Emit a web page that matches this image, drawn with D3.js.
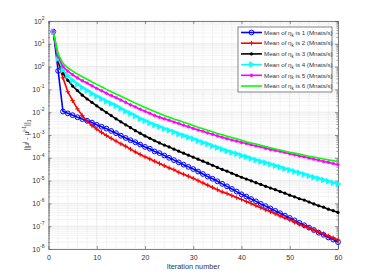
<!DOCTYPE html>
<html><head><meta charset="utf-8">
<script src="https://cdn.jsdelivr.net/npm/d3@7"></script>
<style>body{margin:0;background:#fff}svg{display:block;font-family:"Liberation Sans",Arial,sans-serif}</style>
</head><body><svg id="c" width="374" height="280"></svg>
<script>
const iterations = d3.range(1, 61);
const xTicks = [0, 10, 20, 30, 40, 50, 60];
const yTickExps = [2, 1, 0, -1, -2, -3, -4, -5, -6, -7, -8];
const seriesNames = ["1", "2", "3", "4", "5", "6"];
const s1 = [3.4e1,6.5e-1,1.07e-2,8.9e-3,7.4e-3,6.0e-3,5.0e-3,4.2e-3,3.5e-3,2.8e-3,2.3e-3,1.9e-3,1.5e-3,1.2e-3,9.3e-4,7.4e-4,5.9e-4,4.8e-4,3.8e-4,3.0e-4,2.5e-4,1.9e-4,1.6e-4,1.26e-4,1.0e-4,7.9e-5,6.3e-5,5.0e-5,4.0e-5,3.2e-5,2.5e-5,1.95e-5,1.5e-5,1.2e-5,9.3e-6,7.2e-6,5.6e-6,4.3e-6,3.3e-6,2.5e-6,2.0e-6,1.55e-6,1.23e-6,9.5e-7,7.6e-7,6.0e-7,4.7e-7,3.7e-7,2.9e-7,2.3e-7,1.8e-7,1.4e-7,1.1e-7,8.7e-8,6.8e-8,5.2e-8,4.2e-8,3.2e-8,2.6e-8,2.0e-8];
const s2 = [3.4e1,1.6,3.2e-1,7.9e-2,3.2e-2,1.4e-2,7.1e-3,4.0e-3,2.6e-3,1.8e-3,1.3e-3,9.5e-4,7.1e-4,5.4e-4,4.1e-4,3.2e-4,2.4e-4,1.8e-4,1.4e-4,1.1e-4,8.9e-5,7.1e-5,5.6e-5,4.5e-5,3.6e-5,3.0e-5,2.3e-5,1.9e-5,1.55e-5,1.26e-5,1.0e-5,7.9e-6,6.3e-6,5.0e-6,4.0e-6,3.2e-6,2.7e-6,2.2e-6,1.8e-6,1.5e-6,1.2e-6,9.8e-7,7.9e-7,6.5e-7,5.2e-7,4.3e-7,3.5e-7,2.8e-7,2.3e-7,1.9e-7,1.5e-7,1.2e-7,1.0e-7,8.3e-8,6.8e-8,5.5e-8,4.6e-8,3.7e-8,3.1e-8,2.5e-8];
const s3 = [3.4e1,1.8,5.0e-1,2.5e-1,1.4e-1,8.9e-2,5.6e-2,3.8e-2,2.7e-2,1.9e-2,1.35e-2,9.8e-3,7.1e-3,5.1e-3,3.8e-3,2.8e-3,2.1e-3,1.55e-3,1.2e-3,9.1e-4,7.2e-4,5.6e-4,4.5e-4,3.6e-4,3.0e-4,2.4e-4,1.95e-4,1.6e-4,1.3e-4,1.07e-4,8.7e-5,7.1e-5,5.8e-5,4.7e-5,3.8e-5,3.1e-5,2.6e-5,2.1e-5,1.7e-5,1.4e-5,1.17e-5,9.8e-6,8.1e-6,6.8e-6,5.6e-6,4.7e-6,4.0e-6,3.3e-6,2.8e-6,2.3e-6,1.95e-6,1.6e-6,1.4e-6,1.15e-6,9.5e-7,7.9e-7,6.8e-7,5.6e-7,4.8e-7,4.0e-7];
const s4 = [3.4e1,2.2,7.1e-1,4.0e-1,2.5e-1,1.7e-1,1.2e-1,8.9e-2,6.6e-2,5.0e-2,3.9e-2,3.0e-2,2.4e-2,1.9e-2,1.45e-2,1.1e-2,8.7e-3,6.8e-3,5.2e-3,4.2e-3,3.4e-3,2.75e-3,2.3e-3,1.9e-3,1.6e-3,1.35e-3,1.1e-3,9.5e-4,7.9e-4,6.8e-4,5.6e-4,4.7e-4,4.0e-4,3.3e-4,2.8e-4,2.4e-4,2.0e-4,1.7e-4,1.5e-4,1.26e-4,1.1e-4,9.3e-5,8.1e-5,6.9e-5,6.0e-5,5.2e-5,4.5e-5,3.9e-5,3.3e-5,2.9e-5,2.5e-5,2.2e-5,1.9e-5,1.6e-5,1.4e-5,1.23e-5,1.07e-5,9.3e-6,8.1e-6,7.1e-6];
const s5 = [3.4e1,2.8,1.0,6.3e-1,4.4e-1,3.2e-1,2.4e-1,1.9e-1,1.45e-1,1.1e-1,8.7e-2,6.8e-2,5.4e-2,4.3e-2,3.4e-2,2.7e-2,2.1e-2,1.7e-2,1.35e-2,1.1e-2,8.9e-3,7.2e-3,6.0e-3,5.1e-3,4.4e-3,3.7e-3,3.2e-3,2.7e-3,2.3e-3,1.95e-3,1.66e-3,1.45e-3,1.23e-3,1.07e-3,9.1e-4,7.9e-4,6.9e-4,6.0e-4,5.4e-4,4.7e-4,4.2e-4,3.7e-4,3.3e-4,3.0e-4,2.6e-4,2.3e-4,2.1e-4,1.9e-4,1.7e-4,1.5e-4,1.35e-4,1.2e-4,1.1e-4,9.8e-5,8.7e-5,7.8e-5,6.9e-5,6.3e-5,5.6e-5,5.0e-5];
const s6 = [3.4e1,3.5,1.4,8.9e-1,6.3e-1,4.7e-1,3.6e-1,2.8e-1,2.1e-1,1.66e-1,1.3e-1,1.0e-1,7.9e-2,6.3e-2,5.0e-2,4.0e-2,3.2e-2,2.5e-2,2.0e-2,1.6e-2,1.3e-2,1.07e-2,8.7e-3,7.2e-3,6.0e-3,5.0e-3,4.3e-3,3.6e-3,3.1e-3,2.6e-3,2.2e-3,1.9e-3,1.6e-3,1.4e-3,1.17e-3,1.02e-3,8.9e-4,7.8e-4,6.8e-4,5.9e-4,5.1e-4,4.5e-4,4.0e-4,3.5e-4,3.1e-4,2.75e-4,2.45e-4,2.2e-4,1.95e-4,1.74e-4,1.6e-4,1.45e-4,1.3e-4,1.17e-4,1.07e-4,9.8e-5,8.9e-5,8.1e-5,7.4e-5,6.8e-5];

const allSeries = [s1, s2, s3, s4, s5, s6];
const colors = ["#0000ff", "#ff0000", "#000000", "#00ffff", "#ff00ff", "#00ff00"];
const markers = ["circle", "plus", "dot", "triangle", "star", "none"];

const svg = d3.select("#c");
const L = 48.5, R = 338, T = 21, B = 249;
const x = d3.scaleLinear().domain([0, 60]).range([L, R]);
const y = d3.scaleLog().domain([1e-8, 1e2]).range([B, T]);
const axisCol = "#4d4d4d", textCol = "#333333";

// grid
const g = svg.append("g");
const minorY = [];
for (let e = -8; e < 2; e++) for (let m = 2; m <= 9; m++) minorY.push(m * Math.pow(10, e));
g.selectAll(".my").data(minorY).enter().append("line")
  .attr("x1", L).attr("x2", R).attr("y1", d => y(d)).attr("y2", d => y(d))
  .attr("stroke", "#d4d4d4").attr("stroke-width", 0.5).attr("stroke-dasharray", "1,1");
const minorX = d3.range(2, 60, 2).filter(v => v % 10 !== 0);
g.selectAll(".mx").data(minorX).enter().append("line")
  .attr("x1", d => x(d)).attr("x2", d => x(d)).attr("y1", T).attr("y2", B)
  .attr("stroke", "#d4d4d4").attr("stroke-width", 0.5).attr("stroke-dasharray", "1,1");
g.selectAll(".gy").data(yTickExps).enter().append("line")
  .attr("x1", L).attr("x2", R).attr("y1", d => y(Math.pow(10, d))).attr("y2", d => y(Math.pow(10, d)))
  .attr("stroke", "#dedede").attr("stroke-width", 0.6);
g.selectAll(".gx").data(xTicks).enter().append("line")
  .attr("x1", d => x(d)).attr("x2", d => x(d)).attr("y1", T).attr("y2", B)
  .attr("stroke", "#dedede").attr("stroke-width", 0.6);

// axes
const xAxis = d3.axisBottom(x).tickValues(xTicks).tickSizeInner(-3).tickSizeOuter(0).tickPadding(6);
const xa = svg.append("g").attr("transform", `translate(0,${B})`).call(xAxis);
xa.attr("color", textCol);
xa.select(".domain").attr("stroke", axisCol).attr("stroke-width", 0.7);
xa.selectAll(".tick line").attr("stroke", axisCol).attr("stroke-width", 0.6);
xa.selectAll("text").attr("fill", textCol).attr("font-size", 7).attr("font-family", "Liberation Sans, Arial, sans-serif");
const xTop = svg.append("g").attr("transform", `translate(0,${T})`).call(d3.axisTop(x).tickValues(xTicks).tickSizeInner(-3).tickSizeOuter(0).tickFormat(""));
xTop.select(".domain").attr("stroke", axisCol).attr("stroke-width", 0.7);
xTop.selectAll(".tick line").attr("stroke", axisCol).attr("stroke-width", 0.6);

const yMajor = yTickExps.map(e => Math.pow(10, e));
[["left", L, d3.axisLeft], ["right", R, d3.axisRight]].forEach(([side, px, fn]) => {
  const ax = svg.append("g").attr("transform", `translate(${px},0)`)
    .call(fn(y).tickValues(yMajor).tickSizeInner(-3).tickSizeOuter(0).tickFormat(""));
  ax.select(".domain").attr("stroke", axisCol).attr("stroke-width", 0.7);
  ax.selectAll(".tick line").attr("stroke", axisCol).attr("stroke-width", 0.6);
  const mn = svg.append("g").attr("transform", `translate(${px},0)`)
    .call(fn(y).tickValues(minorY).tickSizeInner(-1.6).tickSizeOuter(0).tickFormat(""));
  mn.select(".domain").remove();
  mn.selectAll(".tick line").attr("stroke", axisCol).attr("stroke-width", 0.5);
});
// y tick labels
const yl = svg.append("g").selectAll("text").data(yTickExps).enter().append("text")
  .attr("x", 44.5).attr("y", d => y(Math.pow(10, d)) + 2.5)
  .attr("text-anchor", "end").attr("fill", textCol).attr("font-size", 7);
yl.append("tspan").text("10");
yl.append("tspan").attr("font-size", 5).attr("dy", -3.5).text(d => String(d));

// labels
svg.append("text").attr("x", (L + R) / 2).attr("y", 268.5).attr("text-anchor", "middle")
  .attr("fill", textCol).attr("font-size", 7.3).text("Iteration number");
const ylab = svg.append("text").attr("transform", `translate(29,${(T + B) / 2}) rotate(-90)`)
  .attr("text-anchor", "middle").attr("fill", textCol).attr("font-size", 7);
ylab.append("tspan").text("||μ");
ylab.append("tspan").attr("font-size", 5).attr("dy", -3).text("j");
ylab.append("tspan").attr("dy", 3).text(" - μ");
ylab.append("tspan").attr("font-size", 5).attr("dy", -3).text("j-1");
ylab.append("tspan").attr("dy", 3).text("||");
ylab.append("tspan").attr("font-size", 5).attr("dy", 2).text("1");

// series
const line = d3.line().x((d, i) => x(iterations[i])).y(d => y(d));
function drawMarker(sel, type, col) {
  if (type === "circle") sel.append("circle").attr("r", 2.4).attr("fill", "none").attr("stroke", col).attr("stroke-width", 1);
  else if (type === "plus") sel.append("path").attr("d", "M-2.3,0H2.3M0,-2.3V2.3").attr("stroke", col).attr("stroke-width", 1);
  else if (type === "dot") sel.append("circle").attr("r", 1.6).attr("fill", col);
  else if (type === "triangle") sel.append("path").attr("d", "M3,0L-2.2,-3L-2.2,3Z").attr("fill", col).attr("stroke", col).attr("stroke-width", 0.5);
  else if (type === "star") sel.append("path").attr("d", "M-1.8,0H1.8M0,-1.8V1.8M-1.3,-1.3L1.3,1.3M-1.3,1.3L1.3,-1.3").attr("stroke", col).attr("stroke-width", 0.9);
}
const plot = svg.append("g");
allSeries.forEach((s, k) => {
  plot.append("path").datum(s).attr("d", line).attr("fill", "none")
    .attr("stroke", colors[k]).attr("stroke-width", 1.6);
  if (markers[k] !== "none") {
    const m = plot.append("g").selectAll("g").data(s).enter().append("g")
      .attr("transform", (d, i) => `translate(${x(iterations[i])},${y(d)})`);
    drawMarker(m, markers[k], colors[k]);
  }
});

// legend
const lg = svg.append("g");
lg.append("rect").attr("x", 238).attr("y", 27).attr("width", 94).attr("height", 65)
  .attr("fill", "#fff").attr("stroke", "#333").attr("stroke-width", 0.6);
seriesNames.forEach((n, k) => {
  const yy = 32.5 + k * 10.7;
  lg.append("line").attr("x1", 241).attr("x2", 262).attr("y1", yy).attr("y2", yy)
    .attr("stroke", colors[k]).attr("stroke-width", 1.6);
  const m = lg.append("g").attr("transform", `translate(251.5,${yy})`);
  drawMarker(m, markers[k], colors[k]);
  const t = lg.append("text").attr("x", 264).attr("y", yy + 2.2).attr("fill", textCol).attr("font-size", 6.2);
  t.append("tspan").text("Mean of η");
  t.append("tspan").attr("font-size", 4.5).attr("dy", 1.8).text("k");
  t.append("tspan").attr("dy", -1.8).text(` is ${n} (Mnats/s)`);
});
</script></body></html>
